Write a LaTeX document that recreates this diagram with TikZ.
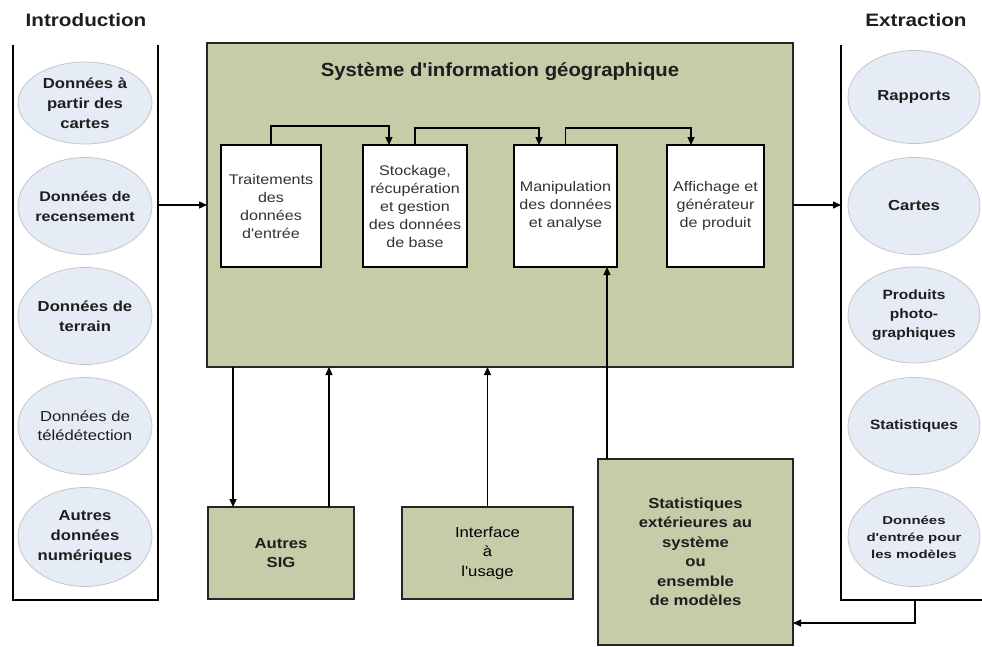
\documentclass[tikz,border=0pt]{standalone}
\usepackage{fontspec}
\setmainfont{Liberation Sans}
\newfontfamily\wf[FakeStretch=1.15]{Liberation Sans}
\newfontfamily\xf[FakeStretch=1.3]{Liberation Sans}
\newfontfamily\tf[FakeStretch=1.07]{Liberation Sans}
\usetikzlibrary{arrows.meta,shapes.geometric}
\definecolor{sigfill}{HTML}{C6CCA8}
\definecolor{ellfill}{HTML}{E6ECF5}
\definecolor{ellline}{HTML}{C4C6CA}
\definecolor{txt}{HTML}{1E1E1E}
\begin{document}
\begin{tikzpicture}[x=1pt,y=-1pt,
  ln/.style={line width=1.3pt, draw=black},
  arr/.style={line width=1.3pt, draw=black, -{Triangle[length=8pt,width=7pt]}},
  bigbox/.style={draw=black!85, line width=1.6pt, fill=sigfill, inner sep=0pt, outer sep=0pt},
  inbox/.style={draw=black, line width=1.5pt, fill=white, inner sep=0pt, outer sep=0pt,
    minimum height=122pt, align=center, text=black!80,
    font=\wf\fontsize{14}{18}\selectfont},
  botbox/.style={draw=black!85, line width=1.6pt, fill=sigfill, inner sep=0pt, outer sep=0pt,
    align=center, text=txt, font=\wf\bfseries\fontsize{14.5}{19.5}\selectfont},
  ell/.style={ellipse, draw=ellline, fill=ellfill, line width=0.8pt, inner xsep=-30pt, inner ysep=-18pt,
    align=center, text=txt, font=\wf\bfseries\fontsize{14.5}{20}\selectfont},
  heading/.style={font=\wf\bfseries\fontsize{18}{22}\selectfont, text=txt}
]
\useasboundingbox (0,0) rectangle (982,646);

% headings
\node[heading] (hin) at (86,20) {Introduction};
\node[heading] (hout) at (916,20) {Extraction};

% left panel
\coordinate (lp1) at (13,45);
\coordinate (lp2) at (13,600);
\coordinate (lp3) at (158,600);
\coordinate (lp4) at (158,45);
\draw[ln] (lp1) -- (lp2) -- (lp3) -- (lp4);

% right panel
\coordinate (rp1) at (841,45);
\coordinate (rp2) at (841,600);
\coordinate (rp3) at (982,600);
\draw[ln] (rp1) -- (rp2) -- (rp3);

% left ellipses
\node[ell, minimum width=134pt, minimum height=82pt] (e1) at (85,103) {Données à\\partir des\\cartes};
\node[ell, minimum width=134pt, minimum height=97pt, font=\wf\bfseries\fontsize{14}{20}\selectfont] (e2) at (85,206) {Données de\\recensement};
\node[ell, minimum width=134pt, minimum height=97pt] (e3) at (85,316) {Données de\\terrain};
\node[ell, minimum width=134pt, minimum height=97pt, font=\wf\fontsize{14.5}{19}\selectfont] (e4) at (85,426) {Données de\\télédétection};
\node[ell, minimum width=134pt, minimum height=99pt] (e5) at (85,537) {Autres\\données\\numériques};

% right ellipses
\node[ell, minimum width=132pt, minimum height=93pt] (r1) at (914,97) {Rapports};
\node[ell, minimum width=132pt, minimum height=97pt] (r2) at (914,206) {Cartes};
\node[ell, minimum width=132pt, minimum height=96pt, font=\wf\bfseries\fontsize{13.5}{19}\selectfont] (r3) at (914,315) {Produits\\photo-\\graphiques};
\node[ell, minimum width=132pt, minimum height=97pt, font=\wf\bfseries\fontsize{13.5}{19}\selectfont] (r4) at (914,426) {Statistiques};
\node[ell, minimum width=132pt, minimum height=99pt, font=\xf\bfseries\fontsize{11.5}{17}\selectfont] (r5) at (914,537) {Données\\d'entrée pour\\les modèles};

% main box
\node[bigbox, minimum width=586pt, minimum height=324pt] (sig) at (500,205) {};
\node[font=\tf\bfseries\fontsize{19}{23}\selectfont, text=txt] (title) at (500,72) {Système d'information géographique};

% inner boxes
\node[inbox, minimum width=100pt] (b1) at (271,206) {Traitements\\des\\données\\d'entrée};
\node[inbox, minimum width=104pt] (b2) at (415,206) {Stockage,\\récupération\\et gestion\\des données\\de base};
\node[inbox, minimum width=103pt] (b3) at (565.5,206) {Manipulation\\des données\\et analyse};
\node[inbox, minimum width=97pt] (b4) at (715.5,206) {Affichage et\\générateur\\de produit};

\draw[arr] (b1.north) -- ++(0,-19) -| ([xshift=26pt]b2.north west);
\draw[arr] (b2.north) -- ++(0,-17) -| ([xshift=25pt]b3.north west);
\draw[arr] (b3.north) -- ++(0,-17) -| ([xshift=24pt]b4.north west);

% bottom boxes
\node[botbox, minimum width=146pt, minimum height=92pt] (autres) at (281,553) {Autres\\SIG};
\node[botbox, minimum width=171pt, minimum height=92pt, font=\wf\fontsize{14.5}{19.5}\selectfont, text=black] (iface) at (487.5,553) {Interface\\à\\l'usage};
\node[botbox, minimum width=195pt, minimum height=186pt] (stats) at (695.5,552) {Statistiques\\extérieures au\\système\\ou\\ensemble\\de modèles};

% connectors
\coordinate (inR) at (158,205);
\coordinate (outL) at (841,205);
\draw[arr] (inR) -- (sig.west);
\draw[arr] (sig.east) -- (outL);

\draw[arr] ([xshift=25pt]autres.north west |- sig.south) -- ([xshift=25pt]autres.north west);
\draw[arr] ([xshift=-25pt]autres.north east) -- ([xshift=-25pt]autres.north east |- sig.south);
\draw[arr] (iface.north) -- (iface.north |- sig.south);
\draw[arr] ([xshift=9pt]stats.north west) -- ([xshift=9pt]stats.north west |- b3.south);

\coordinate (fb) at (915,600);
\coordinate (fbin) at (793,623);
\draw[arr] (fb) |- (fbin);
\end{tikzpicture}
\end{document}
